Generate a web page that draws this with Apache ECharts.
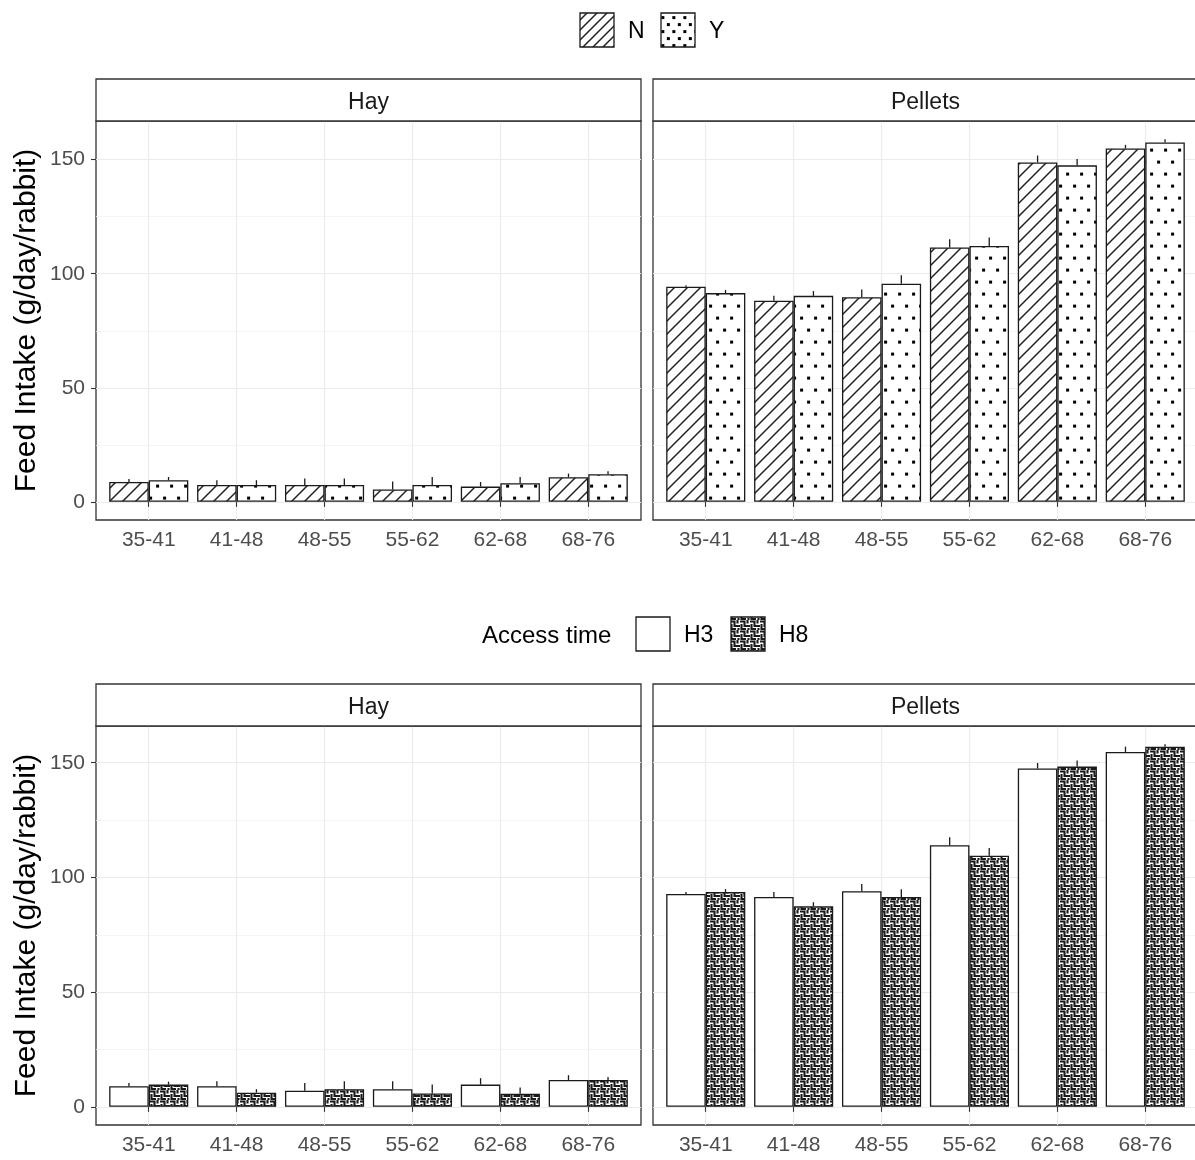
<!DOCTYPE html>
<html>
<head>
<meta charset="utf-8">
<script src="https://cdn.jsdelivr.net/npm/echarts@6/dist/echarts.min.js"></script>
<style>
html, body { margin: 0; padding: 0; background: #fff; }
#chart { width: 1195px; height: 1160px; }
</style>
</head>
<body>
<div id="chart"></div>
<script>
// age windows (days)
const categories = ['35-41', '41-48', '48-55', '55-62', '62-68', '68-76'];
const yTicks = [0, 50, 100, 150];
const yMinorTicks = [25, 75, 125];

// top row: N / Y
const hayN = [8.7, 7.4, 7.4, 5.4, 6.7, 10.8];
const hayNErr = [1.3, 2.1, 2.8, 3.5, 2.0, 1.6];
const hayY = [9.5, 7.4, 7.4, 7.4, 8.2, 12.1];
const hayYErr = [1.4, 2.1, 2.8, 3.5, 2.7, 1.3];
const pelN = [94.3, 88.2, 89.7, 111.5, 148.8, 154.9];
const pelNErr = [0.7, 2.2, 3.4, 3.6, 3.0, 1.6];
const pelY = [91.5, 90.3, 95.6, 112.2, 147.5, 157.5];
const pelYErr = [1.4, 2.1, 3.7, 3.7, 2.8, 1.5];

// bottom row: access time H3 / H8
const hayH3 = [9.0, 9.0, 7.0, 7.7, 9.7, 11.7];
const hayH3Err = [1.4, 2.2, 3.4, 3.5, 2.8, 2.1];
const hayH8 = [9.7, 6.2, 7.7, 5.8, 5.7, 11.7];
const hayH8Err = [1.3, 1.5, 3.5, 3.9, 2.7, 1.3];
const pelH3 = [92.8, 91.5, 94.0, 114.0, 147.5, 154.7];
const pelH3Err = [0.8, 2.2, 3.1, 3.5, 2.4, 2.3];
const pelH8 = [93.6, 87.4, 91.5, 109.5, 148.3, 157.0];
const pelH8Err = [1.3, 1.8, 3.4, 3.3, 2.7, 1.1];

const FONT = '"Liberation Sans", Arial, sans-serif';

// ---- fill patterns ----
function tile(w, h, draw) {
  const c = document.createElement('canvas');
  c.width = w; c.height = h;
  const ctx = c.getContext('2d');
  ctx.fillStyle = '#fff';
  ctx.fillRect(0, 0, w, h);
  draw(ctx, w, h);
  return { image: c, repeat: 'repeat' };
}
function hatch(s) {
  return tile(s, s, (ctx) => {
    ctx.strokeStyle = '#222';
    ctx.lineWidth = 1.5;
    ctx.beginPath();
    ctx.moveTo(-1, s + 1); ctx.lineTo(s + 1, -1);
    ctx.moveTo(-1, 1); ctx.lineTo(1, -1);
    ctx.moveTo(s - 1, s + 1); ctx.lineTo(s + 1, s - 1);
    ctx.stroke();
  });
}
function dots(w, h) {
  return tile(w, h, (ctx) => {
    ctx.fillStyle = '#000';
    ctx.fillRect(w * 0.25 - 1.4, h * 0.25 - 1.4, 3, 3);
    ctx.fillRect(w * 0.75 - 1.4, h * 0.75 - 1.4, 3, 3);
  });
}
function maze() {
  return tile(10, 10, (ctx) => {
    ctx.strokeStyle = '#1a1a1a';
    ctx.lineWidth = 2.1;
    ctx.beginPath();
    ctx.moveTo(0, 1.5); ctx.lineTo(4.5, 1.5); ctx.lineTo(4.5, 6); ctx.lineTo(10, 6);
    ctx.moveTo(1.5, 4); ctx.lineTo(1.5, 9); ctx.lineTo(6, 9);
    ctx.moveTo(7.5, 0); ctx.lineTo(7.5, 3.5);
    ctx.moveTo(8.5, 8); ctx.lineTo(8.5, 10);
    ctx.stroke();
  });
}
const fillN = hatch(13), fillY = dots(14, 24), fillH3 = '#fff', fillH8 = maze();
const legN = hatch(10), legY = dots(11, 14);

// ---- layout ----
const panels = [
  { left: 96, top: 121, strip: 'Hay', leftCol: true },
  { left: 653, top: 121, strip: 'Pellets', leftCol: false },
  { left: 96, top: 726, strip: 'Hay', leftCol: true },
  { left: 653, top: 726, strip: 'Pellets', leftCol: false }
];
const PW = 545, PH = 399, STRIP = 42;

function rowRange(list) {
  let m = 0;
  list.forEach(([v, e]) => v.forEach((x, i) => { m = Math.max(m, x + e[i]); }));
  return [-0.05 * m, 1.05 * m];
}
const topRange = rowRange([[hayN, hayNErr], [hayY, hayYErr], [pelN, pelNErr], [pelY, pelYErr]]);
const botRange = rowRange([[hayH3, hayH3Err], [hayH8, hayH8Err], [pelH3, pelH3Err], [pelH8, pelH8Err]]);

const xTickVals = categories.map((c, i) => i + 1);

const grid = panels.map(p => ({
  left: p.left, top: p.top, width: PW, height: PH,
  show: true, backgroundColor: '#fff', borderColor: '#333', borderWidth: 1.3,
  containLabel: false, outerBoundsMode: 'none'
}));

const xAxis = panels.map((p, i) => ({
  gridIndex: i, type: 'value', min: 0.4, max: 6.6,
  axisLine: { show: false },
  axisTick: { show: true, customValues: xTickVals, length: 5, lineStyle: { color: '#333', width: 1.1 } },
  axisLabel: {
    customValues: xTickVals, formatter: v => categories[Math.round(v) - 1] || '',
    fontSize: 21, color: '#4d4d4d', fontFamily: FONT, margin: 10
  },
  splitLine: { show: true, lineStyle: { color: '#ebebeb', width: 1.1 } }
}));

const yAxis = [];
panels.forEach((p, i) => {
  const r = i < 2 ? topRange : botRange;
  yAxis.push({
    gridIndex: i, type: 'value', min: r[0], max: r[1],
    axisLine: { show: false },
    axisTick: { show: p.leftCol, customValues: yTicks, length: 5, lineStyle: { color: '#333', width: 1.1 } },
    axisLabel: { show: p.leftCol, customValues: yTicks, fontSize: 21, color: '#4d4d4d', fontFamily: FONT, margin: 11 },
    splitLine: { show: true, lineStyle: { color: '#ebebeb', width: 1.1 } }
  });
  yAxis.push({
    gridIndex: i, type: 'value', min: r[0], max: r[1],
    axisLine: { show: false },
    axisTick: { show: false, customValues: yMinorTicks },
    axisLabel: { show: false, customValues: yMinorTicks },
    splitLine: { show: true, lineStyle: { color: '#f2f2f2', width: 0.8 } }
  });
});

const series = [];
function addPanel(i, name, vals, errs, fill, dx) {
  series.push({
    type: 'bar', name: name, xAxisIndex: i, yAxisIndex: 2 * i,
    data: vals.map((v, k) => [k + 1, v]),
    barWidth: '45%', barGap: '0%',
    itemStyle: { color: fill, borderColor: '#1a1a1a', borderWidth: 1.3 },
    silent: true
  });
  series.push({
    type: 'custom', xAxisIndex: i, yAxisIndex: 2 * i, z: 5, silent: true,
    encode: { x: 0, y: 1 },
    data: vals.map((v, k) => [k + 1, v, errs[k]]),
    renderItem: (params, api) => {
      const x = api.value(0) + dx;
      const p0 = api.coord([x, api.value(1)]);
      const p1 = api.coord([x, api.value(1) + api.value(2)]);
      return {
        type: 'line',
        shape: { x1: p0[0], y1: p0[1], x2: p1[0], y2: p1[1] },
        style: { stroke: '#1a1a1a', lineWidth: 1.3 }
      };
    }
  });
}
addPanel(0, 'N', hayN, hayNErr, fillN, -0.225);
addPanel(0, 'Y', hayY, hayYErr, fillY, 0.225);
addPanel(1, 'N', pelN, pelNErr, fillN, -0.225);
addPanel(1, 'Y', pelY, pelYErr, fillY, 0.225);
addPanel(2, 'H3', hayH3, hayH3Err, fillH3, -0.225);
addPanel(2, 'H8', hayH8, hayH8Err, fillH8, 0.225);
addPanel(3, 'H3', pelH3, pelH3Err, fillH3, -0.225);
addPanel(3, 'H8', pelH8, pelH8Err, fillH8, 0.225);

// ---- strips, axis titles, legends ----
const graphic = [];
panels.forEach(p => {
  graphic.push({
    type: 'rect', z: 10,
    shape: { x: p.left, y: p.top - STRIP, width: PW, height: STRIP },
    style: { fill: '#fff', stroke: '#333', lineWidth: 1.3 }
  });
  graphic.push({
    type: 'text', z: 11, x: p.left + PW / 2, y: p.top - STRIP / 2 + 3,
    style: { text: p.strip, font: '23px ' + FONT, fill: '#1a1a1a', align: 'center', verticalAlign: 'middle' }
  });
});
[121 + PH / 2, 726 + PH / 2].forEach(cy => {
  graphic.push({
    type: 'text', z: 11, x: 27, y: cy, rotation: Math.PI / 2,
    style: { text: 'Feed Intake (g/day/rabbit)', font: '30px ' + FONT, fill: '#000', align: 'center', verticalAlign: 'middle' }
  });
});
function legendKey(x, y, fill, label) {
  graphic.push({
    type: 'rect', z: 11, shape: { x: x, y: y, width: 34, height: 34 },
    style: { fill: fill, stroke: '#1a1a1a', lineWidth: 1.3 }
  });
  graphic.push({
    type: 'text', z: 11, x: x + 48, y: y + 19,
    style: { text: label, font: '23px ' + FONT, fill: '#000', align: 'left', verticalAlign: 'middle' }
  });
}
legendKey(580, 13, legN, 'N');
legendKey(661, 13, legY, 'Y');
graphic.push({
  type: 'text', z: 11, x: 482, y: 636,
  style: { text: 'Access time', font: '24px ' + FONT, fill: '#000', align: 'left', verticalAlign: 'middle' }
});
legendKey(636, 617, fillH3, 'H3');
legendKey(731, 617, fillH8, 'H8');

const chart = echarts.init(document.getElementById('chart'), null, { renderer: 'canvas' });
chart.setOption({
  animation: false,
  backgroundColor: '#fff',
  grid: grid,
  xAxis: xAxis,
  yAxis: yAxis,
  series: series,
  graphic: graphic
});
</script>
</body>
</html>
